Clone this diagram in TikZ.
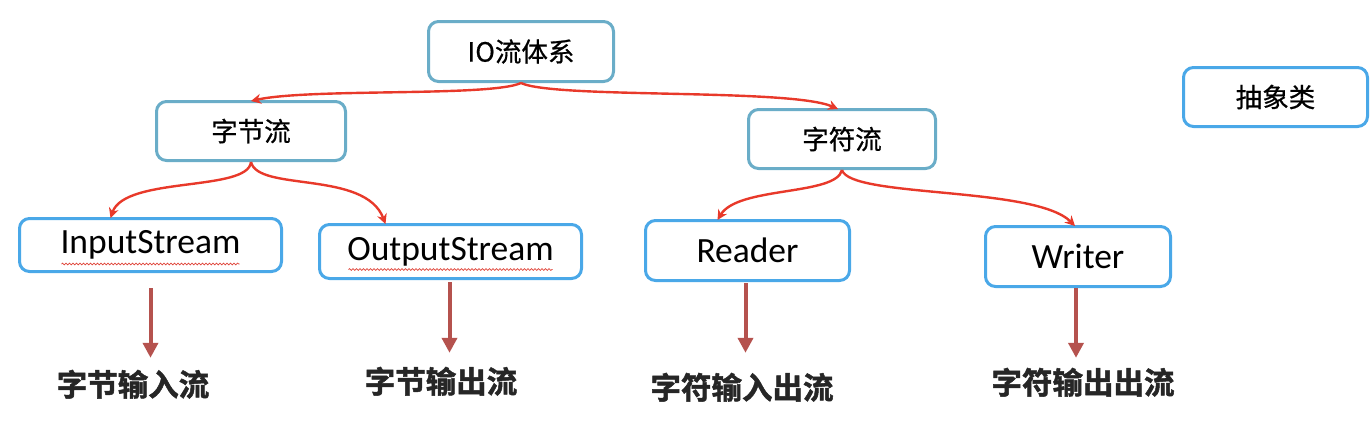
\documentclass[tikz,border=0pt]{standalone}
\usepackage{fontspec}
\setmainfont{Carlito}
\newfontfamily\cjk[FakeBold=0.7]{Noto Sans CJK SC}
\newfontfamily\cjkbold[FakeBold=1.6]{Noto Sans CJK SC Bold}
\usetikzlibrary{arrows.meta,calc,decorations.pathmorphing}
\definecolor{tealb}{HTML}{6AADC8}
\definecolor{blueb}{HTML}{4AA8E8}
\definecolor{redc}{HTML}{E8392A}
\definecolor{darkr}{HTML}{B5524E}
\definecolor{squig}{HTML}{E0453A}
\begin{document}
\begin{tikzpicture}[x=1pt,y=-1pt,
  topbox/.style={draw=tealb, line width=3pt, rounded corners=10pt, fill=white, inner sep=0pt,
    font=\cjk\fontsize{26.5}{30}\selectfont},
  subbox/.style={draw=blueb, line width=3pt, rounded corners=10pt, fill=white, inner sep=0pt,
    font=\fontsize{35.5}{38}\selectfont},
  absbox/.style={draw=blueb, line width=3pt, rounded corners=10pt, fill=white, inner sep=0pt,
    font=\cjk\fontsize{26.5}{30}\selectfont},
  lab/.style={inner sep=0pt, text height=27pt, text depth=4pt, anchor=base,
    font=\cjkbold\fontsize{30.5}{34}\selectfont, text=black!85},
  tree/.style={draw=redc, line width=2.4pt, -{Stealth[length=10pt,width=10pt]}},
  down/.style={draw=darkr, line width=4pt, -{Triangle[length=15pt,width=15pt]}},
  squiggle/.style={draw=squig, line width=0.7pt, decorate,
    decoration={snake, segment length=3.5pt, amplitude=0.9pt}}
]
\useasboundingbox (0,0) rectangle (1371,432);

% top level
\node[topbox, minimum width=185pt, minimum height=60pt] (io) at (521,51.5) {IO流体系};
\node[topbox, minimum width=189pt, minimum height=59pt] (zj) at (251,131) {字节流};
\node[topbox, minimum width=187pt, minimum height=59pt] (zf) at (842,139) {字符流};
\node[absbox, minimum width=184pt, minimum height=59pt] (abs) at (1275.5,97) {抽象类};

% abstract classes
\node[subbox, minimum width=262pt, minimum height=53pt] (in) at (150.5,245) {InputStream};
\node[subbox, minimum width=262pt, minimum height=54pt] (out) at (450.5,251.5) {OutputStream};
\node[subbox, minimum width=204pt, minimum height=60pt] (rd) at (747.5,250.5) {Reader};
\node[subbox, minimum width=185pt, minimum height=60pt] (wr) at (1078,256.5) {Writer};

% spell-check underlines
\draw[squiggle] ($(in.center)+(-89,19)$) -- ($(in.center)+(89,19)$);
\draw[squiggle] ($(out.center)+(-102,18)$) -- ($(out.center)+(102,18)$);

% bottom labels
\node[lab] (l1) at (133,396) {字节输入流};
\node[lab] (l2) at (441,393) {字节输出流};
\node[lab] (l3) at (742,399) {字符输入出流};
\node[lab] (l4) at (1083,394) {字符输出出流};

% tree connectors
\draw[tree] (io.south) .. controls (490,97) and (310,88) .. ([yshift=-1pt]zj.north);
\draw[tree] (io.south) .. controls (555,99) and (790,88) .. ([xshift=-4pt,yshift=-1pt]zf.north);
\draw[tree] (zj.south) .. controls (248,192) and (125,176) .. ([xshift=-40pt,yshift=-1pt]in.north);
\draw[tree] (zj.south) .. controls (258,192) and (365,170) .. ([xshift=-65pt,yshift=-1pt]out.north);
\draw[tree] (zf.south) .. controls (836,196) and (738,186) .. ([xshift=-30pt,yshift=-1pt]rd.north);
\draw[tree] (zf.south) .. controls (850,198) and (1035,186) .. ([xshift=-3pt,yshift=-1pt]wr.north);

% down arrows
\draw[down] ([yshift=-15pt]in.south) -- ([yshift=11pt]in.south |- l1.north);
\draw[down] ([xshift=-1pt,yshift=-2pt]out.south) -- ([xshift=-1pt,yshift=13pt]out.south |- l2.north);
\draw[down] ([xshift=-2pt,yshift=-1pt]rd.south) -- ([xshift=-2pt,yshift=19pt]rd.south |- l3.north);
\draw[down] ([xshift=-2pt]wr.south) -- ([xshift=-2pt,yshift=9pt]wr.south |- l4.north);
\end{tikzpicture}
\end{document}
